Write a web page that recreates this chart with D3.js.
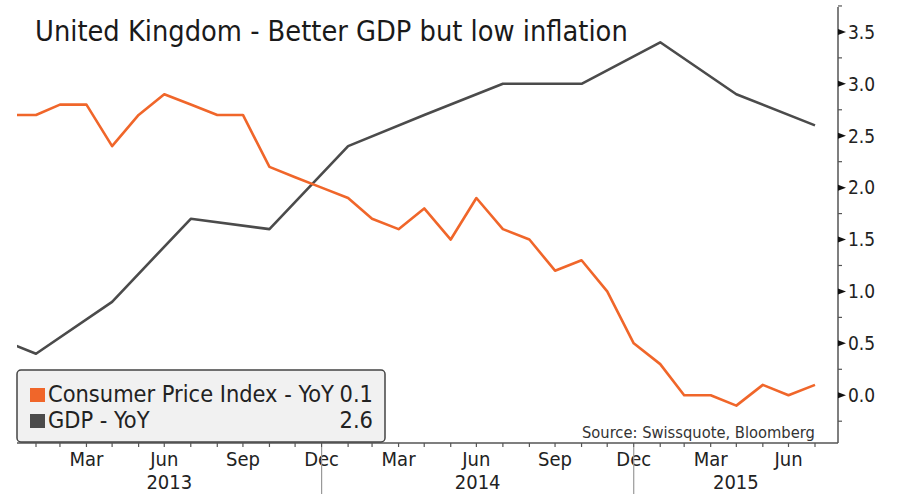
<!DOCTYPE html>
<html>
<head>
<meta charset="utf-8">
<script src="https://cdn.jsdelivr.net/npm/d3@7"></script>
<style>
  html, body { margin: 0; padding: 0; background: #fff; }
  svg { display: block; }
  text { font-family: "DejaVu Sans Condensed", "DejaVu Sans", sans-serif; }
</style>
</head>
<body>
<svg id="chart" width="897" height="494"></svg>
<script>
// ---------------- DATA ----------------
const title = "United Kingdom - Better GDP but low inflation";
const sourceText = "Source: Swissquote, Bloomberg";

// Monthly CPI YoY (%), Dec 2012 .. Jul 2015
const cpiMonths = ["2012-12","2013-01","2013-02","2013-03","2013-04","2013-05","2013-06","2013-07","2013-08","2013-09","2013-10","2013-11","2013-12",
  "2014-01","2014-02","2014-03","2014-04","2014-05","2014-06","2014-07","2014-08","2014-09","2014-10","2014-11","2014-12",
  "2015-01","2015-02","2015-03","2015-04","2015-05","2015-06","2015-07"];
const cpiValues = [2.7,2.7,2.8,2.8,2.4,2.7,2.9,2.8,2.7,2.7,2.2,2.1,2.0,
  1.9,1.7,1.6,1.8,1.5,1.9,1.6,1.5,1.2,1.3,1.0,0.5,
  0.3,0.0,0.0,-0.1,0.1,0.0,0.1];

// Quarterly GDP YoY (%), as plotted
const gdpMonths = ["2012-10","2013-01","2013-04","2013-07","2013-10","2014-01","2014-04","2014-07","2014-10","2015-01","2015-04","2015-07"];
const gdpValues = [0.7,0.4,0.9,1.7,1.6,2.4,2.7,3.0,3.0,3.4,2.9,2.6];

const yTicks = [0.0,0.5,1.0,1.5,2.0,2.5,3.0,3.5];
const monthLabelMonths = [2,5,8,11]; // Mar, Jun, Sep, Dec
const monthNames = ["Jan","Feb","Mar","Apr","May","Jun","Jul","Aug","Sep","Oct","Nov","Dec"];
const years = [2013,2014,2015];

const seriesNames = ["Consumer Price Index - YoY", "GDP - YoY"];
const seriesColors = ["#f0662a", "#4b4b4b"];

// ---------------- HELPERS ----------------
const monthEnd = s => { const [y,m] = s.split("-").map(Number); return new Date(y, m, 0); };
const cpi = cpiMonths.map((m,i) => ({date: monthEnd(m), value: cpiValues[i]}));
const gdp = gdpMonths.map((m,i) => ({date: monthEnd(m), value: gdpValues[i]}));

const plotLeft = 17, plotRight = 838, plotTop = 7, plotBottom = 443;

const x = d3.scaleTime()
  .domain([new Date(2013,0,31), new Date(2015,6,31)])
  .range([36, 815]);
const y = d3.scaleLinear()
  .domain([-0.46, 3.74])
  .range([plotBottom, plotTop]);

const svg = d3.select("#chart");

function fit(sel, w) {
  const n = sel.node();
  const fs = parseFloat(sel.attr("font-size"));
  const cw = n.getComputedTextLength();
  if (cw > 0) sel.attr("font-size", (fs * w / cw).toFixed(2));
  return sel;
}

// clip
svg.append("defs").append("clipPath").attr("id","plotclip")
  .append("rect").attr("x", plotLeft).attr("y", plotTop)
  .attr("width", plotRight - plotLeft).attr("height", plotBottom - plotTop);

// ---------------- LINES ----------------
const line = d3.line().x(d => x(d.date)).y(d => y(d.value));
const g = svg.append("g").attr("clip-path","url(#plotclip)");
g.append("path").datum(gdp).attr("d", line)
  .attr("fill","none").attr("stroke", seriesColors[1]).attr("stroke-width",2.6).attr("stroke-linejoin","round");
g.append("path").datum(cpi).attr("d", line)
  .attr("fill","none").attr("stroke", seriesColors[0]).attr("stroke-width",2.6).attr("stroke-linejoin","round");

// ---------------- RIGHT AXIS ----------------
const axisColor = "#555";
svg.append("line").attr("x1", plotRight).attr("x2", plotRight)
  .attr("y1", plotTop).attr("y2", plotBottom).attr("stroke", axisColor).attr("stroke-width",1.5);
const minorTicks = d3.range(-0.25, 3.76, 0.5);
svg.selectAll(".ymin").data(minorTicks).enter().append("line")
  .attr("x1", plotRight).attr("x2", plotRight + 4)
  .attr("y1", d => y(d)).attr("y2", d => y(d))
  .attr("stroke", axisColor).attr("stroke-width",1.2);
svg.selectAll(".ytri").data(yTicks).enter().append("path")
  .attr("d", d => `M${plotRight},${y(d)-3} L${plotRight+8},${y(d)} L${plotRight},${y(d)+3} Z`)
  .attr("fill", "#111");
svg.selectAll(".ylab").data(yTicks).enter().append("text")
  .attr("x", plotRight + 10).attr("y", d => y(d)).attr("dy","0.36em")
  .attr("font-size", 19).attr("fill","#222")
  .text(d => d.toFixed(1));

// ---------------- BOTTOM AXIS ----------------
svg.append("line").attr("x1", plotLeft).attr("x2", plotRight)
  .attr("y1", plotBottom).attr("y2", plotBottom).attr("stroke", axisColor).attr("stroke-width",1.5);
const tickDates = d3.range(0, 31).map(i => new Date(2013, i + 1, 0));
svg.selectAll(".xt").data(tickDates).enter().append("line")
  .attr("x1", d => x(d)).attr("x2", d => x(d))
  .attr("y1", plotBottom).attr("y2", plotBottom + 4)
  .attr("stroke", axisColor).attr("stroke-width",1.2);
const labelDates = tickDates.filter(d => monthLabelMonths.includes(d.getMonth()));
svg.selectAll(".xl").data(labelDates).enter().append("text")
  .attr("x", d => x(d)).attr("y", 466).attr("text-anchor","middle")
  .attr("font-size", 20).attr("fill","#222")
  .text(d => monthNames[d.getMonth()]);
// year separators
const yearBounds = [new Date(2013,11,31), new Date(2014,11,31)];
svg.selectAll(".ysep").data(yearBounds).enter().append("line")
  .attr("x1", d => x(d)).attr("x2", d => x(d))
  .attr("y1", plotBottom + 4).attr("y2", 494)
  .attr("stroke", "#999").attr("stroke-width",1.2);
svg.selectAll(".yr").data(years).enter().append("text")
  .attr("x", d => {
    const a = Math.max(plotLeft, x(new Date(d-1,11,31)));
    const b = Math.min(plotRight, x(new Date(d,11,31)));
    return (a + b) / 2;
  })
  .attr("y", 489).attr("text-anchor","middle")
  .attr("font-size", 20).attr("fill","#222")
  .text(d => d);

// ---------------- TITLE ----------------
fit(svg.append("text").attr("x", 35).attr("y", 41).attr("font-size", 25).attr("fill","#1a1a1a").text(title), 593);

// ---------------- SOURCE ----------------
fit(svg.append("text").attr("x", 582).attr("y", 438).attr("font-size", 15).attr("fill","#333").text(sourceText), 233);

// ---------------- LEGEND ----------------
const leg = svg.append("g");
leg.append("rect").attr("x", 17).attr("y", 370).attr("width", 368).attr("height", 72)
  .attr("rx", 4).attr("fill", "#f1f1f1").attr("stroke", "#444").attr("stroke-width", 1.5);
const lastVals = [cpiValues[cpiValues.length-1], gdpValues[gdpValues.length-1]];
seriesNames.forEach((name, i) => {
  const by = 402 + i * 26;
  leg.append("rect").attr("x", 30).attr("y", by - 14).attr("width", 15).attr("height", 14).attr("fill", seriesColors[i]);
  const t = leg.append("text").attr("x", 48).attr("y", by).attr("font-size", 20).attr("fill","#222").text(name);
  if (i === 0) fit(t, 286);
  else t.attr("font-size", leg.select("text").attr("font-size"));
  leg.append("text").attr("x", 373).attr("y", by).attr("text-anchor","end")
    .attr("font-size", leg.select("text").attr("font-size")).attr("fill","#222").text(lastVals[i].toFixed(1));
});
</script>
</body>
</html>
